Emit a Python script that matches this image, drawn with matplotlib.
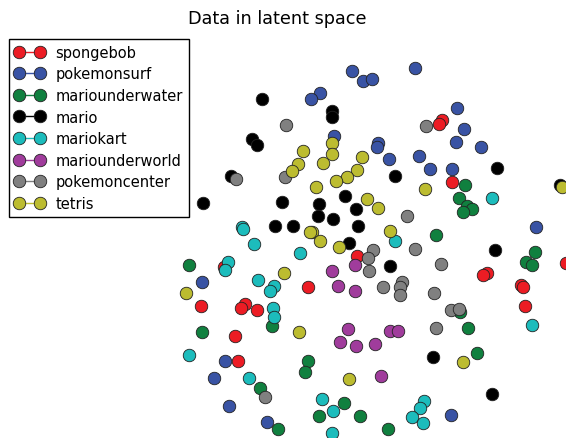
import matplotlib
matplotlib.use('Agg')
import matplotlib.pyplot as plt
from matplotlib.lines import Line2D

labels = ['spongebob', 'pokemonsurf', 'mariounderwater', 'mario',
          'mariokart', 'mariounderworld', 'pokemoncenter', 'tetris']
colors = ['#ec1c24', '#3953a4', '#10803f', '#000000',
          '#1cbcbc', '#a03c9c', '#808080', '#bcbc30']

# latent coordinates (x, y) for each class
spongebob = [(442, 121), (439, 125), (452, 183), (224, 268), (357, 257), (308, 288),
             (201, 307), (245, 305), (241, 309), (257, 311), (487, 274), (483, 276),
             (521, 286), (523, 288), (525, 307), (566, 264), (235, 337), (238, 362)]
pokemonsurf = [(352, 72), (415, 69), (363, 82), (372, 80), (320, 94), (311, 100),
               (334, 137), (378, 144), (377, 148), (389, 160), (419, 157), (430, 170),
               (457, 109), (464, 130), (456, 143), (481, 148), (452, 170), (536, 228),
               (202, 283), (225, 362), (214, 379), (229, 407), (267, 423), (451, 416)]
mariounderwater = [(465, 186), (459, 199), (467, 207), (472, 210), (463, 213), (436, 236),
                   (535, 253), (526, 263), (532, 266), (460, 313), (189, 266), (272, 327),
                   (202, 333), (308, 362), (305, 373), (260, 389), (278, 430), (344, 404),
                   (319, 417), (360, 417), (388, 430), (468, 329), (477, 354)]
mario = [(262, 100), (332, 112), (332, 118), (252, 140), (257, 146), (231, 177),
         (395, 177), (560, 186), (497, 169), (203, 204), (282, 203), (275, 227),
         (293, 227), (345, 197), (319, 205), (318, 217), (356, 210), (333, 220),
         (358, 227), (349, 244), (390, 267), (495, 251), (433, 358), (492, 395)]
mariokart = [(242, 228), (243, 230), (254, 245), (300, 254), (228, 263), (225, 271),
             (258, 281), (274, 287), (270, 292), (273, 309), (274, 318), (395, 242),
             (492, 199), (532, 326), (189, 356), (249, 379), (322, 400), (333, 412),
             (332, 434), (424, 402), (420, 409), (412, 418), (423, 424)]
mariounderworld = [(355, 266), (332, 272), (338, 287), (355, 292), (348, 330), (390, 332),
                   (398, 332), (340, 343), (356, 347), (375, 345), (381, 377)]
pokemoncenter = [(286, 126), (426, 127), (236, 180), (285, 178), (407, 217), (373, 251),
                 (368, 259), (415, 250), (369, 272), (441, 265), (383, 288), (402, 283),
                 (400, 288), (400, 296), (434, 294), (451, 311), (459, 310), (436, 329),
                 (265, 398)]
tetris = [(303, 152), (298, 165), (292, 172), (332, 144), (332, 155), (323, 164),
          (362, 158), (357, 171), (347, 178), (336, 182), (316, 188), (425, 190),
          (367, 200), (378, 209), (390, 232), (312, 233), (320, 242), (339, 248),
          (310, 233), (284, 274), (186, 294), (562, 188), (299, 333), (349, 380),
          (463, 363)]

groups = [spongebob, pokemonsurf, mariounderwater, mario,
          mariokart, mariounderworld, pokemoncenter, tetris]

fig = plt.figure(figsize=(5.66, 4.39), dpi=100)
ax = fig.add_axes([0, 0, 1, 1])

handles = []
for pts, c, lab in zip(groups, colors, labels):
    xs, ys = zip(*pts)
    ax.plot(xs, ys, 'o', color=c, markersize=9, markeredgecolor='#222222',
            markeredgewidth=0.6)
    handles.append(Line2D([], [], color=c, marker='o', markersize=9,
                          markeredgecolor='#222222', markeredgewidth=0.6,
                          linewidth=1.0, label=lab))

ax.set_xlim(0, 566)
ax.set_ylim(439, 0)
ax.axis('off')

fig.text(0.49, 1 - 19 / 439, 'Data in latent space', ha='center', va='center',
         fontsize=12.7)

leg = fig.legend(handles=handles, loc='upper left',
                 bbox_to_anchor=(9 / 566, 1 - 40 / 439), borderaxespad=0,
                 numpoints=2, handlelength=2.0, handletextpad=0.8,
                 fontsize=10.5, labelspacing=0.45, fancybox=False,
                 borderpad=0.4)
leg.get_frame().set_edgecolor('black')
leg.get_frame().set_linewidth(1.0)
leg.get_frame().set_alpha(1)

fig.savefig('out.png', dpi=100)
